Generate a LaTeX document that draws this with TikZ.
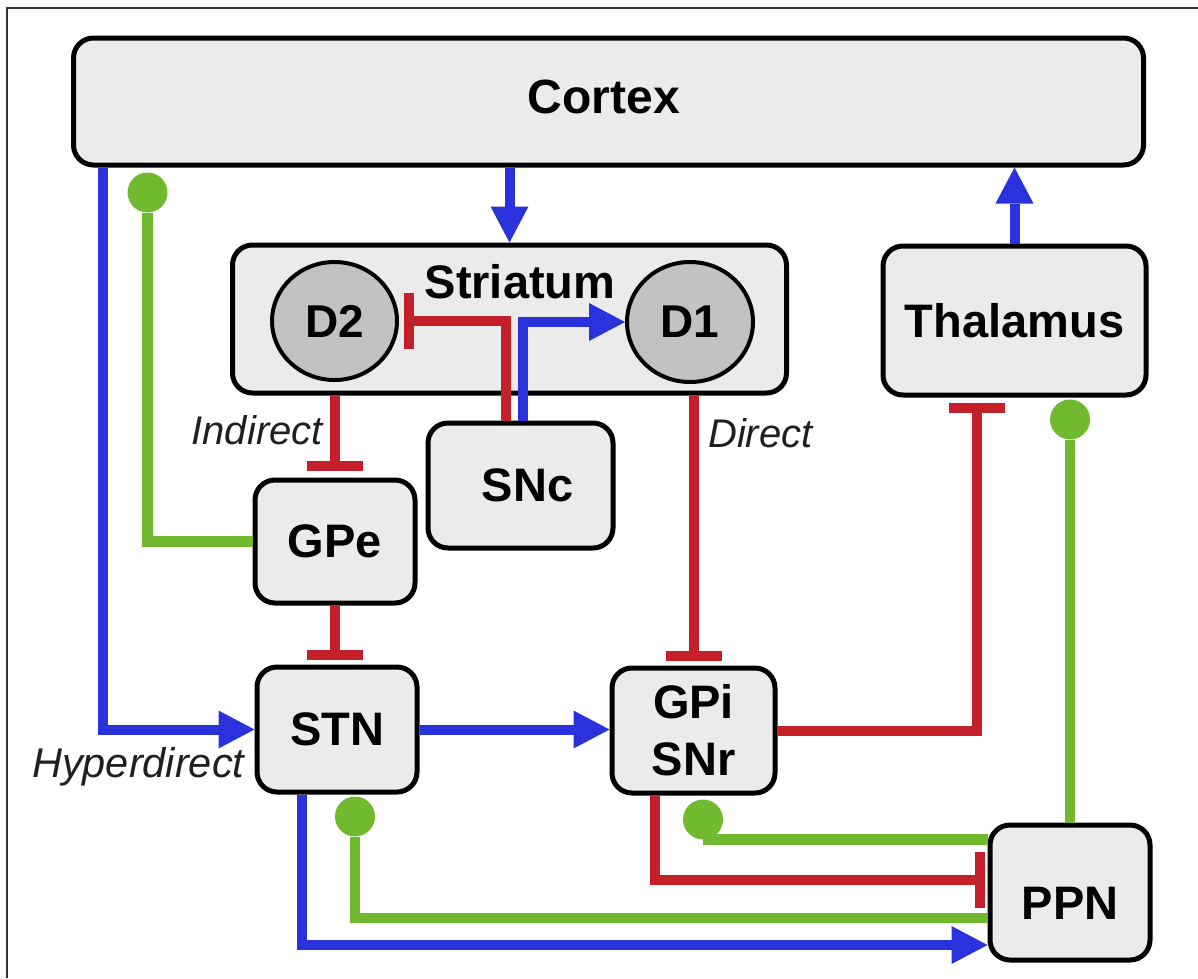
\documentclass[tikz,border=0pt]{standalone}
\usepackage{fontspec}
\setmainfont{Liberation Sans}
\usetikzlibrary{arrows.meta,shapes.geometric,calc}
\definecolor{myblue}{HTML}{2A33DB}
\definecolor{myred}{HTML}{C4202A}
\definecolor{mygreen}{HTML}{71BA2F}
\definecolor{boxfill}{HTML}{EBEBEB}
\definecolor{circfill}{HTML}{C2C2C2}
\tikzset{
  region/.style={draw=black, line width=5pt, fill=boxfill, rounded corners=20pt,
    inner sep=0pt, font=\fontsize{47pt}{57pt}\selectfont\bfseries, align=center},
  receptor/.style={draw=black, line width=4pt, fill=circfill, ellipse, inner sep=0pt,
    font=\fontsize{46pt}{50pt}\selectfont\bfseries},
  boldtext/.style={inner sep=0pt, font=\fontsize{47pt}{50pt}\selectfont\bfseries},
  pathlabel/.style={inner sep=0pt, text=black!88, font=\fontsize{40pt}{44pt}\selectfont\itshape},
  exc/.style={draw=myblue, line width=10pt, -{Triangle[length=36pt,width=38pt,line width=0pt]}},
  inh/.style={draw=myred, line width=10pt, -{Bar[width=56pt,line width=10pt]}},
  prm/.style={draw=mygreen, line width=10.5pt, -{Circle[length=40pt,width=40pt,line width=0pt]}},
}
\begin{document}
\begin{tikzpicture}[x=1pt,y=-1pt]
\useasboundingbox (0,0) rectangle (1198,978);
% frame
\draw[line width=2pt, black!80] (1198,8) -- (7,8) -- (7,978);

% regions
\node[region, minimum width=1070pt, minimum height=127pt] (Cortex) at (608.5,101.5) {};
\node[boldtext, font=\fontsize{48pt}{50pt}\selectfont\bfseries] (CortexLabel) at (604,97) {Cortex};
\node[region, minimum width=554pt, minimum height=148pt] (Striatum) at (509.5,319) {};
\node[boldtext] (StriatumLabel) at (520,282) {Striatum};
\node[receptor, minimum width=125pt, minimum height=118pt] (D2) at (334.5,321) {D2};
\node[receptor, minimum width=126pt, minimum height=120pt] (D1) at (690,322) {D1};
\node[region, minimum width=185pt, minimum height=125pt, text width=185pt] (SNc) at (520.5,485.5) {\hspace*{14pt}SNc};
\node[region, minimum width=160pt, minimum height=123pt] (GPe) at (335,541.5) {GPe};
\node[region, minimum width=160pt, minimum height=125pt] (STN) at (337,729.5) {STN};
\node[region, minimum width=163pt, minimum height=125pt] (GPi) at (693.5,730.5) {GPi\\SNr};
\node[region, minimum width=263pt, minimum height=149pt] (Thalamus) at (1014.5,320.5) {Thalamus};
\node[region, minimum width=160pt, minimum height=135pt, text height=54pt, text depth=0pt] (PPN) at (1070,892.5) {PPN};

% path labels
\node[pathlabel, anchor=base east] (Indirect) at (323,444) {Indirect};
\node[pathlabel, anchor=base west] (Direct) at (708,447) {Direct};
\node[pathlabel, anchor=base west, font=\fontsize{41.5pt}{44pt}\selectfont\itshape] (Hyper) at (32,777) {Hyperdirect};

% connectors
\draw[exc] (Cortex.south -| Striatum.north) -- (Striatum.north);
\draw[exc] (Thalamus.north) -- (Thalamus.north |- Cortex.south);
\draw[exc] ([xshift=31.5pt]Cortex.south west) |- (STN.west);
\draw[prm, shorten >=5pt] (GPe.west) -| ([xshift=76.5pt]Cortex.south west);

\draw[inh, shorten >=7pt] (D2 |- Striatum.south) -- (D2 |- GPe.north);
\draw[inh, shorten >=5pt] (GPe.south) -- (GPe.south |- STN.north);
\draw[inh, shorten >=5pt] (GPi.north |- Striatum.south) -- (GPi.north);
\draw[inh, shorten >=5pt] ([xshift=-15pt]SNc.north) |- (D2.east);
\draw[exc] ([xshift=2pt]SNc.north) |- (D1.west);

\draw[exc] (STN.east) -- (STN.east -| GPi.west);
\draw[inh, shorten >=5pt] (GPi.east) -| ([xshift=-37.5pt]Thalamus.south);
\draw[prm, shorten >=2pt] (PPN.north) -- (PPN.north |- Thalamus.south);
\draw[prm, shorten >=4pt] ([yshift=-17pt]PPN.north west) -| ([xshift=9.5pt]GPi.south);
\draw[inh, shorten >=3pt] ([xshift=-38.5pt]GPi.south) |- ([yshift=12.5pt]PPN.west);
\draw[prm, shorten >=2pt] ([yshift=-25.5pt]PPN.west) -| ([xshift=18pt]STN.south);
\draw[exc] ([xshift=-35pt]STN.south) |- ([yshift=-52.5pt]PPN.west);
\end{tikzpicture}
\end{document}
